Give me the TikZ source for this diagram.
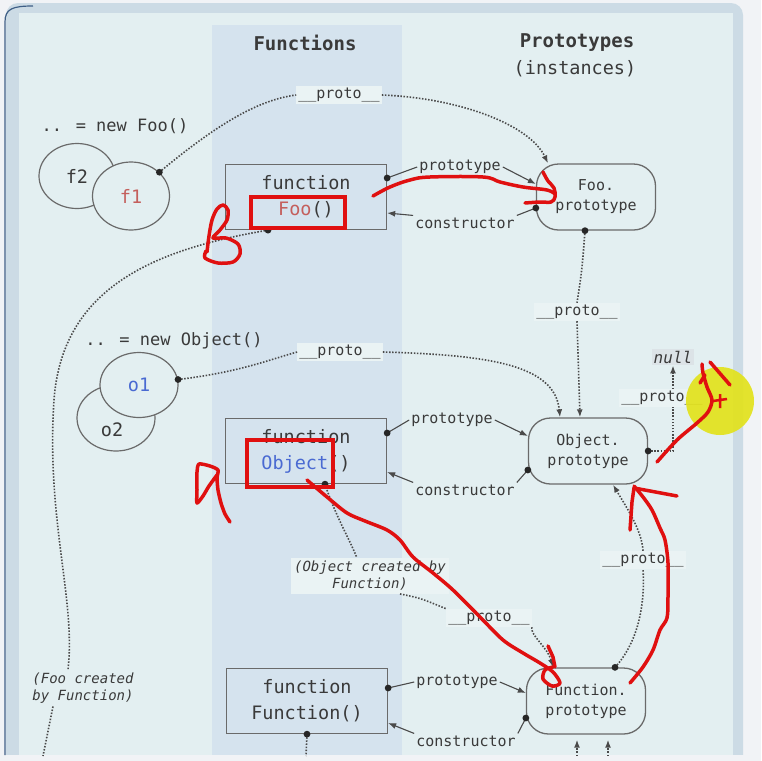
\documentclass[tikz,border=0pt]{standalone}
\usepackage{fontspec}
\usepackage{xcolor}
\usepackage{tikz}
\usetikzlibrary{calc, shapes.geometric, positioning, arrows.meta}

\newfontfamily\mono{DejaVu Sans Mono}
\newcommand{\hdfont}{\mono\bfseries\fontsize{19}{24}\selectfont}
\newcommand{\fnfont}{\mono\fontsize{18.5}{26}\selectfont}
\newcommand{\lblfont}{\mono\fontsize{15}{20}\selectfont}
\newcommand{\instfont}{\mono\fontsize{17}{20}\selectfont}
\newcommand{\remfont}{\mono\itshape\fontsize{14}{17}\selectfont}
\newcommand{\protolab}{\_\_proto\_\_}

\definecolor{pagebg}{HTML}{F1F3F6}
\definecolor{framec}{HTML}{CCDBE5}
\definecolor{panel}{HTML}{E3EFF1}
\definecolor{colband}{HTML}{D5E3EE}
\definecolor{boxgray}{HTML}{6A6A6A}
\definecolor{txt}{HTML}{3A3A3A}
\definecolor{linegray}{HTML}{4A4A4A}
\definecolor{foored}{HTML}{C45F5C}
\definecolor{objblue}{HTML}{4A6AD2}
\definecolor{annot}{HTML}{E01010}
\definecolor{hilite}{HTML}{E2E21C}
\definecolor{lblbg}{HTML}{EAF3F4}
\definecolor{nullbg}{HTML}{DCE3E7}
\definecolor{winedge}{HTML}{3F5F86}

\begin{document}
\begin{tikzpicture}[>={Latex[length=8pt,width=6pt]}, x=1pt, y=-1pt,
    fnbox/.style={draw=boxgray, line width=1.3pt, minimum width=161pt, minimum height=65pt, align=center, text=txt, font=\fnfont},
    protobox/.style={draw=boxgray, line width=1.3pt, rounded corners=22pt, minimum width=119pt, minimum height=66pt, align=center, text=txt, font=\lblfont},
    inst/.style={ellipse, draw=boxgray, line width=1.2pt, fill=panel, text=txt, font=\fnfont},
    hd/.style={text=txt, font=\hdfont},
    code/.style={text=txt, font=\instfont},
    lbl/.style={text=txt, font=\lblfont, inner sep=2pt},
    plbl/.style={lbl, fill=lblbg},
    rem/.style={text=txt, font=\remfont, inner sep=3pt},
    link/.style={draw=linegray, line width=1.1pt},
    plink/.style={draw=linegray, line width=1.6pt, dash pattern=on 1.5pt off 1.6pt},
    dotc/.style={fill=black!85},
    redmark/.style={draw=annot, line width=3.5pt, line cap=round, line join=round}]
    \useasboundingbox (0,0) rectangle (761,761);

    % 1. Nền và khung
    \fill[pagebg] (0,0) rectangle (761,761);
    \fill[framec] (6,761) {[rounded corners=12pt] -- (6,3) -- (743,3)} -- (743,761) -- cycle;
    \fill[panel] (19,13) rectangle (733,761);
    \fill[colband] (212,25) rectangle (402,755);
    \fill[pagebg] (0,755) rectangle (761,761);
    \draw[winedge, line width=1.2pt] (5,755) -- (5,22) .. controls (5,9) and (12,6) .. (33,6);

    % 2. Tiêu đề cột
    \node[hd] (hFun) at (305,43) {Functions};
    \node[hd] (hPro) at (577,43) {Prototypes};
    \node[text=txt, font=\fnfont] (hInst) at (575,69) {(instances)};

    % 3. Các hộp hàm và prototype
    \node[fnbox] (fooF) at (306,197) {function\\\textcolor{foored}{Foo}()};
    \node[fnbox] (objF) at (306,451) {function\\\textcolor{objblue}{Object}()};
    \node[fnbox] (funF) at (307,701) {function\\Function()};
    \node[protobox] (fooP) at (596,197) {Foo.\\prototype};
    \node[protobox] (objP) at (588,451) {Object.\\prototype};
    \node[protobox] (funP) at (586,701) {Function.\\prototype};

    % 4. Các đối tượng
    \node[code] (newFoo) at (115,126) {.. = new Foo()};
    \node[inst, minimum width=76pt, minimum height=65pt] (f2) at (77,176) {f2};
    \node[inst, minimum width=77pt, minimum height=68pt] (f1) at (131,196) {\textcolor{foored}{f1}};
    \node[code] (newObj) at (174,341) {.. = new Object()};
    \node[inst, minimum width=78pt, minimum height=66pt] (o2) at (116,418) {};
    \node[text=txt, font=\fnfont] (o2t) at ([xshift=-4pt,yshift=-12pt]o2.center) {o2};
    \node[inst, minimum width=78pt, minimum height=65pt] (o1) at (139,385) {\textcolor{objblue}{o1}};
    \node[lbl, fill=nullbg, font=\mono\itshape\fontsize{16}{20}\selectfont] (null) at (673,357) {null};

    % 5. Nhãn
    \node[plbl] (pF1) at (339,95) {\protolab};
    \node[plbl] (pFP) at (577,312) {\protolab};
    \node[plbl] (pO1) at (340,352) {\protolab};
    \node[plbl] (pObjF) at (489,618) {\protolab};
    \node[plbl] (pFunP) at (643,560) {\protolab};
    \node[lbl] (prFoo) at (460,167) {prototype};
    \node[lbl] (ctFoo) at (465,223) {constructor};
    \node[lbl] (prObj) at (452,420) {prototype};
    \node[lbl] (ctObj) at (465,490) {constructor};
    \node[lbl] (prFun) at (457,682) {prototype};
    \node[lbl] (ctFun) at (466,741) {constructor};
    \node[rem, align=left] (fooNote) at (83,688) {(Foo created\\by Function)};
    \node[rem, align=center, fill=lblbg] (objNote) at (370,576) {(Object created by\\Function)};

    % 6. Các điểm đầu
    \coordinate (f1d) at (f1.40);
    \coordinate (o1d) at (o1.8);
    \coordinate (fooPrD) at ([yshift=19pt]fooF.east);
    \coordinate (fooCtD) at ([yshift=-11pt]fooP.west);
    \coordinate (fooPD) at ([xshift=-11pt]fooP.south);
    \coordinate (fooBD) at ([xshift=-38pt]fooF.south);
    \coordinate (objPrD) at ([yshift=18pt]objF.east);
    \coordinate (objCtD) at ([yshift=-19pt]objP.west);
    \coordinate (objBD) at ([xshift=19pt]objF.south);
    \coordinate (funPrD) at ([yshift=13pt]funF.east);
    \coordinate (funCtD) at ([yshift=-17pt]funP.west);
    \coordinate (funPD) at ([xshift=29pt]funP.north);
    \coordinate (funBD) at (funF.south);
    \coordinate (funOut) at (306,756);
    \coordinate (fooOut) at (43,756);
    \coordinate (inA) at (577,756);
    \coordinate (inB) at (608,756);

    % 7. Liên kết __proto__
    \draw[plink] (f1d) .. controls (210,130) and (255,100) .. (pF1.west);
    \draw[plink,->] (pF1.east) .. controls (460,98) and (530,125) .. ([xshift=-48pt]fooP.north);
    \draw[plink] (fooPD) .. controls (582,270) .. (pFP.north);
    \draw[plink,->] (pFP.south) -- ([xshift=-8pt]objP.north);
    \draw[plink] (o1d) .. controls (240,372) and (268,360) .. (pO1.west);
    \draw[plink,->] (pO1.east) .. controls (490,355) and (555,365) .. ([xshift=-28pt]objP.north);
    \draw[plink,->] (objP.east) -| (null.south);
    \node[plbl] (pNull) at (662,398) {\protolab};
    \draw[plink] (objBD) .. controls (335,515) and (350,540) .. ([xshift=-13pt]objNote.north);
    \draw[plink] ([xshift=30pt]objNote.south) .. controls (420,598) .. (pObjF.north west);
    \draw[plink,->] (pObjF.south east) .. controls (530,635) and (548,648) .. ([xshift=-33pt]funP.north);
    \draw[plink] (funPD) .. controls (640,640) and (645,600) .. (pFunP.south);
    \draw[plink,->] (pFunP.north) .. controls (642,530) and (625,505) .. ([xshift=25pt]objP.south);
    \draw[plink] (fooBD) .. controls (150,250) and (62,290) .. (54,400) .. controls (46,520) and (76,600) .. ([xshift=-15pt]fooNote.north);
    \draw[plink] ([xshift=-30pt]fooNote.south) -- (fooOut);
    \draw[plink] (funBD) -- (funOut);
    \draw[plink,->, shorten >=5pt] (inA) -- ([xshift=-9pt]funP.south);
    \draw[plink,->, shorten >=5pt] (inB) -- ([xshift=22pt]funP.south);

    % 8. Liên kết prototype / constructor
    \draw[link] (fooPrD) -- (prFoo.west);
    \draw[link,->] (prFoo.east) -- ([yshift=13pt]fooP.west);
    \draw[link] (fooCtD) -- (ctFoo.north east);
    \draw[link,->] (ctFoo.north west) -- ([yshift=-16pt]fooF.east);
    \draw[link] (objPrD) -- (prObj.west);
    \draw[link,->] (prObj.east) -- ([yshift=15pt]objP.west);
    \draw[link] (objCtD) -- (ctObj.north east);
    \draw[link,->] (ctObj.north west) -- ([yshift=-21pt]objF.east);
    \draw[link] (funPrD) -- (prFun.west);
    \draw[link,->] (prFun.east) -- ([yshift=8pt]funP.west);
    \draw[link] (funCtD) -- (ctFun.north east);
    \draw[link,->] (ctFun.north west) -- ([yshift=-22pt]funF.east);
    \foreach \d in {f1d, o1d, fooPrD, fooCtD, fooPD, fooBD, objPrD, objCtD, objBD, funPrD, funCtD, funPD, funBD}
        \fill[dotc] (\d) circle (3.4pt);
    \fill[dotc] (objP.east) circle (3.4pt);

    % 9. Nét vẽ tay màu đỏ
    \fill[hilite, opacity=0.92] (720,401) circle (34pt);
    \draw[annot, line width=4pt] (251,197) rectangle (345,228);
    \draw[annot, line width=4pt] (247,440) rectangle (333,487);
    \draw[redmark] plot[smooth, tension=0.6] coordinates {(373,196) (390,187) (410,180) (430,177) (483,177) (500,182) (523,187) (547,190) (555,194)};
    \draw[redmark] plot[smooth, tension=0.6] coordinates {(543,172) (548,181) (554,188) (555,197) (551,202) (540,202) (525,203)};
    \draw[redmark] plot[smooth, tension=0.5] coordinates {(207,252) (209,236) (212,220) (217,209) (223,205) (228,210) (227,220) (220,230) (213,238) (226,238) (238,244) (240,254) (233,262) (218,263) (205,258) (206,251)};
    \draw[redmark] plot[smooth, tension=0.4] coordinates {(230,522) (225,514) (221,503) (218,490) (217,478) (218,470) (210,466) (199,464) (197,472) (197,490) (197,503) (203,496) (209,486) (217,475)};
    \draw[redmark] plot[smooth, tension=0.5] coordinates {(307,480) (327,497) (347,513) (365,521) (387,530) (400,540) (413,557) (433,573) (453,590) (480,617) (503,640) (523,653) (540,663) (553,672) (560,683) (552,686) (543,679) (545,670) (553,667)};
    \draw[redmark] (548,646) -- (553,657) -- (555,667);
    \draw[redmark] plot[smooth, tension=0.5] coordinates {(630,683) (643,667) (653,650) (660,630) (667,618) (668,597) (668,563) (665,540) (660,528) (652,510) (643,497) (634,486)};
    \draw[redmark] (634,488) -- (677,496);
    \draw[redmark] (630,530) -- (632,502) -- (634,488);
    \draw[redmark] plot[smooth, tension=0.5] coordinates {(657,462) (677,440) (697,423) (708,412) (712,400) (707,387) (703,373) (702,364)};
    \draw[redmark] (700,383) -- (705,375);
    \draw[redmark] (710,362) -- (730,385);
    \draw[annot, line width=2.5pt] (713,401) -- (727,399) (720,394) -- (720,408);
\end{tikzpicture}
\end{document}
